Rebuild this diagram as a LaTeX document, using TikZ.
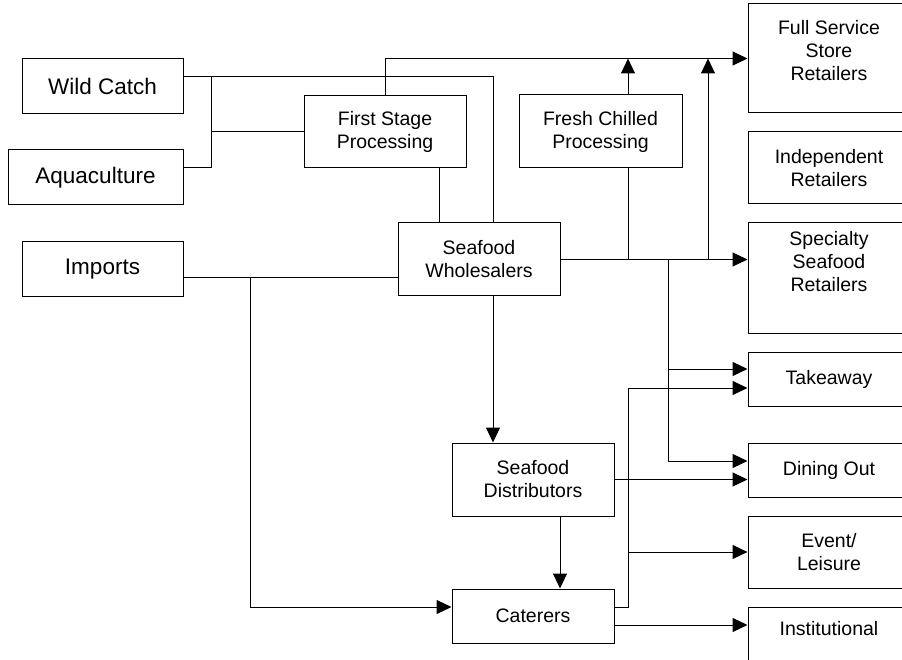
\documentclass[tikz,border=0pt]{standalone}
\usepackage{fontspec}
\setmainfont{Liberation Sans}
\usetikzlibrary{arrows.meta,positioning}

\tikzset{
  kasten/.style={draw, line width=1pt, align=center, inner sep=0pt,
    minimum width=162pt, font=\fontsize{19.5}{23}\selectfont},
  quelle/.style={kasten, minimum width=161pt, minimum height=55pt,
    font=\fontsize{22.5}{26}\selectfont},
  linie/.style={line width=1pt},
  pfeil/.style={linie, -{Triangle[length=15pt,width=14pt]}}
}

\begin{document}
\begin{tikzpicture}[x=1pt,y=-1pt]
  \useasboundingbox (0,0) rectangle (902,660);
  \clip (0,0) rectangle (902,660);

  % Herkunft
  \node[quelle] (wild) at (102.5,86.5) {Wild Catch};
  \node[quelle, minimum width=175pt] (aqua) at (95.5,177.5) {Aquaculture};
  \node[quelle] (imports) at (102.5,269.5) {Imports};

  % Verarbeitung und Handel
  \node[kasten, minimum height=72pt] (first) at (385,132) {First Stage\\Processing};
  \node[kasten, minimum width=163pt, minimum height=73pt] (fresh) at (600.5,131.5) {Fresh Chilled\\Processing};
  \node[kasten, minimum height=73pt] (whole) at (479,259.5) {Seafood\\Wholesalers};
  \node[kasten, minimum height=73pt] (distrib) at (533,479.5) {Seafood\\Distributors};
  \node[kasten, minimum height=54pt] (cater) at (533,616) {Caterers};

  % Absatzkanaele
  \node[kasten, minimum height=109pt, text depth=16pt] (full) at (829,58.5) {Full Service\\Store\\Retailers};
  \node[kasten, minimum height=72pt] (indep) at (829,168) {Independent\\Retailers};
  \node[kasten, minimum height=110pt, text depth=34pt] (spec) at (829,278) {Specialty\\Seafood\\Retailers};
  \node[kasten, minimum height=54pt] (take) at (829,379) {Takeaway};
  \node[kasten, minimum height=54pt] (dine) at (829,470) {Dining Out};
  \node[kasten, minimum height=72pt] (event) at (829,552) {Event/\\Leisure};
  \node[kasten, minimum height=72pt, text depth=30pt] (inst) at (829,643) {Institutional};

  % Knotenpunkte der Leitungen
  \coordinate (jWild) at (211,77);
  \coordinate (jFirst) at (211,132);
  \coordinate (oben1) at (628,58.5);
  \coordinate (oben2) at (708,58.5);
  \coordinate (g1) at (628,259.5);
  \coordinate (g2) at (668,259.5);
  \coordinate (g3) at (708,259.5);
  \coordinate (g4) at (668,369);
  \coordinate (g5) at (250,278);
  \coordinate (g6) at (628,552);
  \coordinate (g7) at (628,388);

  % Herkunft -> Verarbeitung
  \draw[linie] ([yshift=9.5pt]wild.east) -| ([xshift=14pt]whole.north);
  \draw[linie] ([yshift=9.5pt]aqua.east) -| (jWild);
  \draw[linie] (jFirst) -- (first.west);
  \draw[linie] ([xshift=54pt]first.south) -- ([xshift=-40pt]whole.north);
  \draw[pfeil] (first.north) |- (full.west);
  \draw[linie] ([yshift=-8.5pt]imports.east) -- ([yshift=-18.5pt]whole.west);
  \draw[pfeil] (g5) |- ([yshift=9pt]cater.west);

  % Fresh Chilled
  \draw[pfeil] ([xshift=27.5pt]fresh.north) -- (oben1);
  \draw[linie] ([xshift=27.5pt]fresh.south) -- (g1);

  % Grosshandel -> Einzelhandel und Gastronomie
  \draw[pfeil] (whole.east) -- (whole.east -| spec.west);
  \draw[pfeil] (g3) -- (oben2);
  \draw[pfeil] (g2) |- ([yshift=9pt]dine.west);
  \draw[pfeil] (g4) -- ([yshift=10pt]take.west);
  \draw[pfeil] ([xshift=14pt]whole.south) -- ([xshift=-40pt]distrib.north);

  % Distributoren und Caterer
  \draw[pfeil] (distrib.east) -- (distrib.east -| dine.west);
  \draw[pfeil] ([xshift=27pt]distrib.south) -- ([xshift=27pt]cater.north);
  \draw[pfeil] ([yshift=9pt]cater.east) -| (g7) -- ([yshift=-9pt]take.west);
  \draw[pfeil] (g6) -- (event.west);
  \draw[pfeil] ([yshift=-9pt]cater.east) -- ([yshift=18pt]inst.west);
\end{tikzpicture}
\end{document}
